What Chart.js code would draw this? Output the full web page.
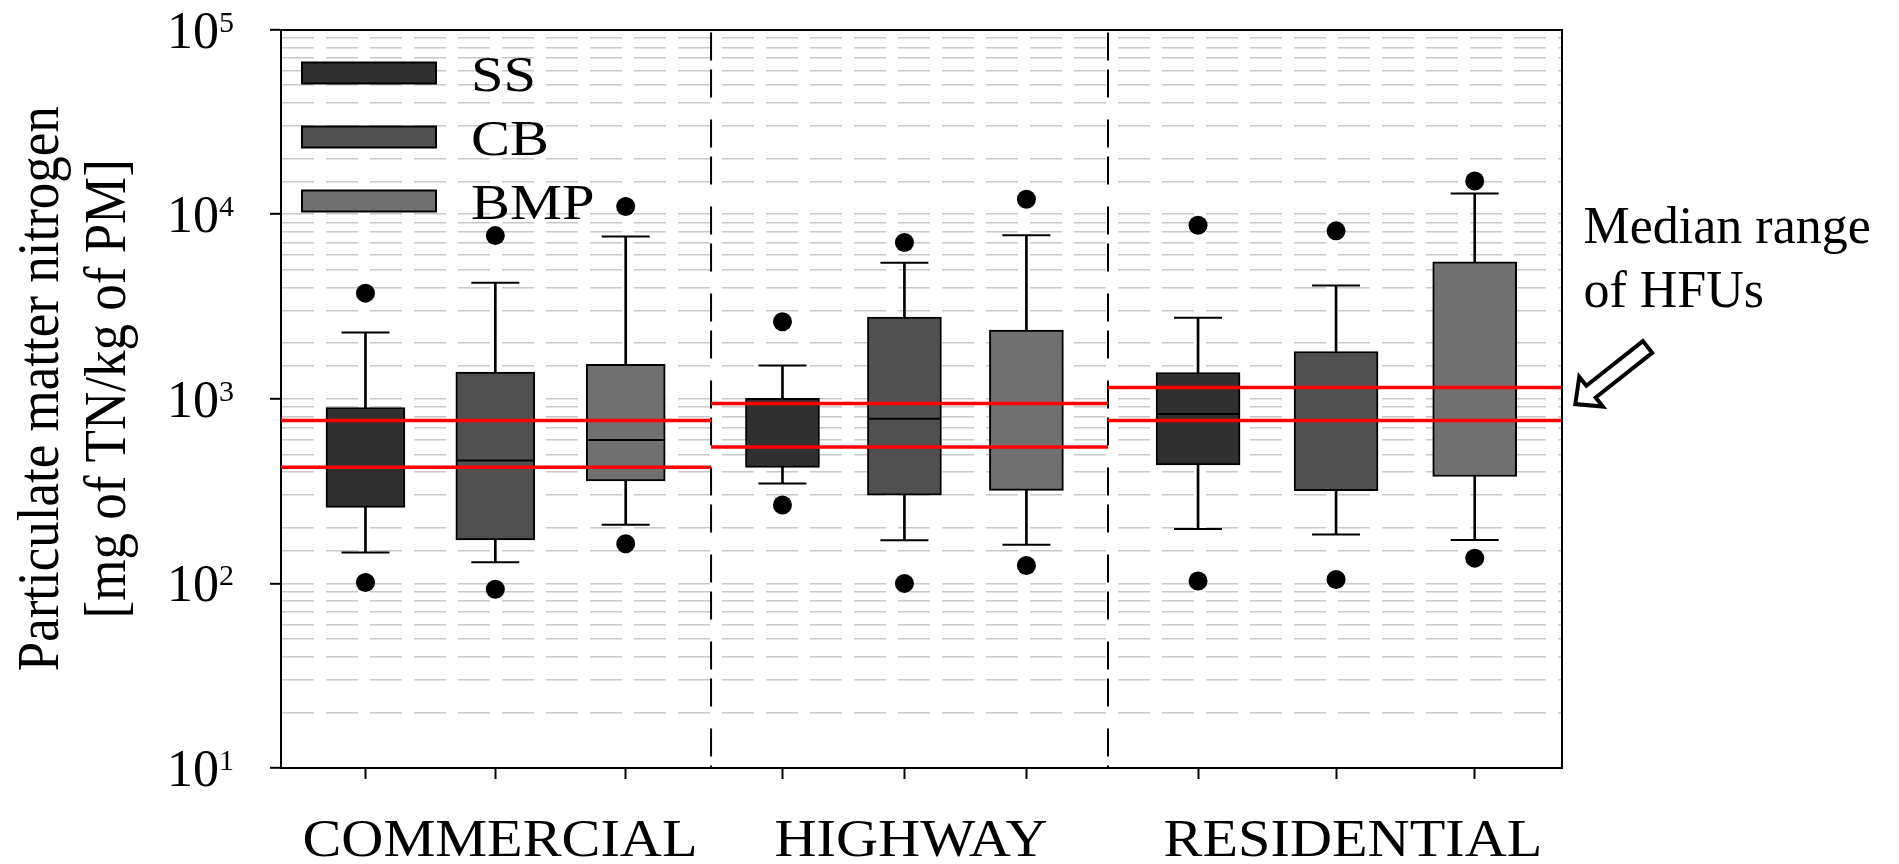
<!DOCTYPE html>
<html>
<head>
<meta charset="utf-8">
<title>Particulate matter nitrogen</title>
<script src="https://cdn.jsdelivr.net/npm/chart.js@4.4.1/dist/chart.umd.min.js"></script>
<style>
  html, body { margin: 0; padding: 0; background: #fff; }
  #wrap { width: 1899px; height: 864px; }
</style>
</head>
<body>
<div id="wrap"><canvas id="chart" width="1899" height="864"></canvas></div>
<script>
// Categories and series
const categories = ['COMMERCIAL', 'HIGHWAY', 'RESIDENTIAL'];
const seriesNames = ['SS', 'CB', 'BMP'];

// Box statistics [mg of TN/kg of PM]
// order: COMMERCIAL SS, CB, BMP | HIGHWAY SS, CB, BMP | RESIDENTIAL SS, CB, BMP
const lowOutlier  = [101, 93, 164, 266, 100, 125, 103, 105, 137];
const lowWhisker  = [147, 130, 208, 347, 171, 162, 197, 184, 172];
const q1          = [258, 172, 359, 425, 300, 319, 438, 318, 379];
const median      = [763, 463, 597, 548, 780, 943, 826, 763, 1151];
const q3          = [897, 1394, 1534, 1004, 2770, 2353, 1388, 1803, 5514];
const highWhisker = [2285, 4245, 7563, 1514, 5449, 7690, 2744, 4104, 12920];
const highOutlier = [3733, 7650, 10990, 2612, 7015, 12050, 8710, 8118, 15130];

// Median range of HFUs (red lines), one pair per category
const hfuLow  = [425, 548, 763];
const hfuHigh = [763, 943, 1151];

// Y tick labels: 10 to the power of ...
const yTickValues = [10, 100, 1000, 10000, 100000];
const yTickExponents = ['1', '2', '3', '4', '5'];

const yTitle = ['Particulate matter nitrogen', '[mg of TN/kg of PM]'];
const noteLines = ['Median range', 'of HFUs'];

// Layout (x axis units)
const boxX = [0.653, 1.657, 2.665, 3.877, 4.820, 5.763, 7.090, 8.157, 9.229];
const dividerX = [3.325, 6.394];
const xMax = 9.9;
const labelX = [1.693, 4.871, 8.288];
const boxWidth = [79, 74, 84];
const seriesColors = ['#303030', '#505050', '#707070'];
const FONT = "'Liberation Serif', 'Times New Roman', serif";

Chart.defaults.font.family = FONT;
Chart.defaults.color = '#000';

const pts = vals => vals.map((v, i) => ({ x: boxX[i], y: v }));
const groupOf = i => Math.floor(i / seriesNames.length);

const datasets = [];

// whisker stems
datasets.push({
    type: 'bar',
    label: 'whiskers',
    data: boxX.map((x, i) => ({ x: x, y: [lowWhisker[i], highWhisker[i]] })),
    backgroundColor: '#000',
    borderWidth: 0,
    barThickness: 2,
    grouped: false,
    order: 6
});

// boxes, one dataset per category so every group keeps its own width
categories.forEach((cat, g) => {
    datasets.push({
        type: 'bar',
        label: cat,
        data: seriesNames.map((s, k) => {
            const i = g * seriesNames.length + k;
            return { x: boxX[i], y: [q1[i], q3[i]] };
        }),
        backgroundColor: seriesColors,
        borderColor: '#000',
        borderWidth: 2,
        borderSkipped: false,
        barThickness: boxWidth[g],
        grouped: false,
        order: 5
    });
});

// medians
datasets.push({
    type: 'scatter',
    label: 'median',
    data: pts(median),
    pointStyle: 'line',
    pointRadius: c => boxWidth[groupOf(c.dataIndex)] / 2 - 1,
    pointBorderColor: '#000',
    pointBorderWidth: 2,
    order: 4
});

// whisker caps
datasets.push({
    type: 'scatter',
    label: 'caps',
    data: pts(lowWhisker).concat(pts(highWhisker)),
    pointStyle: 'line',
    pointRadius: 24,
    pointBorderColor: '#000',
    pointBorderWidth: 2,
    order: 4
});

// outliers
datasets.push({
    type: 'scatter',
    label: 'outliers',
    data: pts(lowOutlier).concat(pts(highOutlier)),
    pointStyle: 'circle',
    pointRadius: 9.5,
    pointBackgroundColor: '#000',
    pointBorderWidth: 0,
    order: 3
});

// dashed dividers between categories
const dividerData = [];
dividerX.forEach(x => {
    dividerData.push({ x: x, y: 100000 }, { x: x, y: 10 }, { x: x, y: null });
});
datasets.push({
    type: 'line',
    label: 'dividers',
    data: dividerData,
    borderColor: '#000',
    borderWidth: 2,
    borderDash: [28, 9, 28, 22],
    borderDashOffset: -3,
    pointRadius: 0,
    spanGaps: false,
    fill: false,
    order: 2
});

// red median range lines
const sectionStart = [0, dividerX[0], dividerX[1]];
const sectionEnd = [dividerX[0], dividerX[1], xMax];
const hfuData = [];
categories.forEach((c, g) => {
    [hfuLow[g], hfuHigh[g]].forEach(v => {
        hfuData.push({ x: sectionStart[g], y: v }, { x: sectionEnd[g], y: v }, { x: sectionEnd[g], y: null });
    });
});
datasets.push({
    type: 'line',
    label: 'HFU median range',
    data: hfuData,
    borderColor: '#ff0000',
    borderWidth: 3.5,
    pointRadius: 0,
    spanGaps: false,
    fill: false,
    order: 1
});

datasets.forEach(d => { d.xAxisID = 'x'; d.yAxisID = 'y'; });

// text drawn slightly wide, like the original figure
function wideText(ctx, text, x, y, size, stretch, align, rotation) {
    ctx.save();
    ctx.translate(x, y);
    ctx.scale(stretch, 1);
    if (rotation) ctx.rotate(rotation);
    ctx.font = size + 'px ' + FONT;
    ctx.textAlign = align;
    ctx.textBaseline = 'alphabetic';
    ctx.fillStyle = '#000';
    ctx.fillText(text, 0, 0);
    ctx.restore();
}

// tick labels, axis title, legend and annotation
const decorPlugin = {
    id: 'decor',
    afterDraw(chart) {
        const ctx = chart.ctx;
        const a = chart.chartArea;
        const xs = chart.scales.x;
        const ys = chart.scales.y;
        ctx.save();
        ctx.fillStyle = '#000';

        // y tick labels 10^n
        yTickValues.forEach((v, k) => {
            const py = ys.getPixelForValue(v);
            ctx.font = '52px ' + FONT;
            ctx.textAlign = 'right';
            ctx.textBaseline = 'alphabetic';
            ctx.fillText('10', a.left - 62, py + 18);
            ctx.font = '30px ' + FONT;
            ctx.textAlign = 'left';
            ctx.fillText(yTickExponents[k], a.left - 62, py + 2);
        });

        // y axis title, two rotated lines
        const cy = (a.top + a.bottom) / 2 - 10;
        wideText(ctx, yTitle[0], 58, cy, 53, 1.1, 'center', -Math.PI / 2);
        wideText(ctx, yTitle[1], 125, cy, 53, 1.1, 'center', -Math.PI / 2);

        // category labels
        categories.forEach((cat, g) => {
            wideText(ctx, cat, xs.getPixelForValue(labelX[g]), 856, 53, 1.1, 'center');
        });

        // legend
        seriesNames.forEach((name, k) => {
            const top = a.top + 33 + k * 64;
            ctx.fillStyle = seriesColors[k];
            ctx.fillRect(a.left + 21, top, 134, 21);
            ctx.lineWidth = 2;
            ctx.strokeStyle = '#000';
            ctx.strokeRect(a.left + 21, top, 134, 21);
            wideText(ctx, name, a.left + 190, top + 28, 50, 1.17, 'left');
        });

        // annotation
        ctx.fillStyle = '#000';
        ctx.font = '52px ' + FONT;
        ctx.textAlign = 'left';
        ctx.textBaseline = 'alphabetic';
        ctx.fillText(noteLines[0], a.right + 22, 243);
        ctx.fillText(noteLines[1], a.right + 22, 307);

        // hollow arrow pointing at the red lines
        ctx.translate(a.right + 86, 347);
        ctx.rotate(Math.atan2(58.7, -74.2));
        const L = 92;
        ctx.beginPath();
        ctx.moveTo(0, -7.5);
        ctx.lineTo(L - 20, -7.5);
        ctx.lineTo(L - 20, -19);
        ctx.lineTo(L, 0);
        ctx.lineTo(L - 20, 19);
        ctx.lineTo(L - 20, 7.5);
        ctx.lineTo(0, 7.5);
        ctx.closePath();
        ctx.fillStyle = '#fff';
        ctx.fill();
        ctx.lineWidth = 4;
        ctx.lineJoin = 'miter';
        ctx.strokeStyle = '#000';
        ctx.stroke();
        ctx.restore();
    }
};

new Chart(document.getElementById('chart'), {
    type: 'bar',
    data: { datasets: datasets },
    options: {
        responsive: false,
        maintainAspectRatio: false,
        animation: false,
        layout: {
            autoPadding: false,
            padding: { left: 0, top: 29.5, right: 337.5, bottom: 0 }
        },
        plugins: {
            legend: { display: false },
            tooltip: { enabled: false }
        },
        scales: {
            x: {
                type: 'linear',
                position: 'bottom',
                min: 0,
                max: xMax,
                offset: false,
                afterBuildTicks: s => { s.ticks = boxX.map(v => ({ value: v })); },
                afterFit: s => {
                    s.height = 96;
                    s.paddingLeft = 0;
                    s.paddingRight = 0;
                },
                grid: {
                    display: true,
                    offset: false,
                    drawOnChartArea: false,
                    drawTicks: true,
                    tickLength: 11,
                    tickWidth: 2,
                    tickColor: '#000'
                },
                border: { display: true, color: '#000', width: 2 },
                ticks: { display: false }
            },
            xTop: {
                type: 'linear',
                position: 'top',
                min: 0,
                max: xMax,
                grid: { display: false, drawTicks: false },
                ticks: { display: false },
                border: { display: true, color: '#000', width: 2 },
                afterFit: s => { s.height = 0; }
            },
            y: {
                type: 'logarithmic',
                position: 'left',
                min: 10,
                max: 100000,
                afterFit: s => {
                    s.width = 281;
                    s.paddingTop = 0;
                    s.paddingBottom = 0;
                },
                grid: {
                    color: '#c8c8c8',
                    lineWidth: 1.6,
                    tickLength: 11,
                    tickWidth: 2,
                    tickColor: c => yTickValues.includes(c.tick.value) ? '#000' : 'rgba(0,0,0,0)'
                },
                border: { display: true, color: '#000', width: 2, dash: [32, 12] },
                ticks: { display: false, autoSkip: false }
            },
            yRight: {
                type: 'logarithmic',
                position: 'right',
                min: 10,
                max: 100000,
                grid: { display: false, drawTicks: false },
                ticks: { display: false },
                border: { display: true, color: '#000', width: 2 },
                afterFit: s => { s.width = 0; }
            }
        }
    },
    plugins: [decorPlugin]
});
</script>
</body>
</html>
